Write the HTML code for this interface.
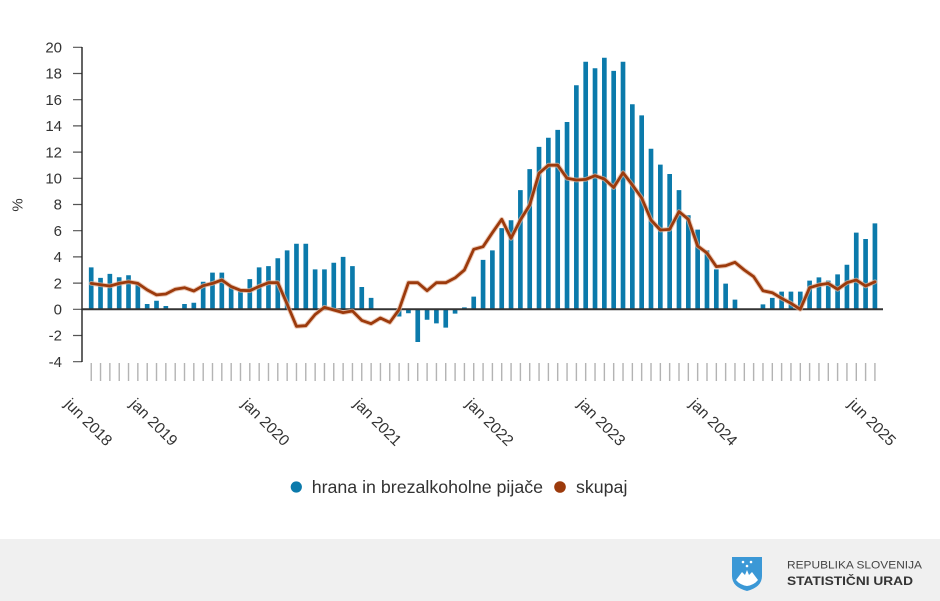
<!DOCTYPE html>
<html>
<head>
<meta charset="utf-8">
<style>
html,body{margin:0;padding:0;background:#fff;}
body{width:940px;height:601px;overflow:hidden;}
svg{display:block;}
text{font-family:"Liberation Sans",Arial,sans-serif;fill:#333;}
</style>
</head>
<body>
<svg width="940" height="601" viewBox="0 0 940 601" xmlns="http://www.w3.org/2000/svg">
<defs>
<pattern id="tk" patternUnits="userSpaceOnUse" x="86.535" y="363" width="9.33" height="18">
<rect x="4.05" y="0" width="1.25" height="18" fill="#aaa"/>
</pattern>
<polyline id="sk" fill="none" points="91.2,283.4 100.53,284.7 109.86,286.0 119.19,283.4 128.52,281.8 137.85,283.4 147.18,289.9 156.51,294.9 165.84,294.0 175.17,289.3 184.5,287.7 193.83,291.0 203.16,285.7 212.49,283.4 221.82,280.0 231.15,286.6 240.48,290.3 249.81,290.7 259.14,286.4 268.47,282.7 277.8,282.7 287.13,304.1 296.46,326.3 305.79,325.7 315.12,314.5 324.45,307.3 333.78,310.0 343.11,312.6 352.44,311.0 361.77,320.4 371.1,323.7 380.43,318.0 389.76,322.4 399.09,309.6 408.42,282.7 417.75,282.7 427.08,290.7 436.41,282.7 445.74,282.7 455.07,277.9 464.4,270.0 473.73,249.3 483.06,246.7 492.39,232.7 501.72,219.3 511.05,238.3 520.38,220.0 529.71,205.0 539.04,173.3 548.37,165.2 557.7,165.2 567.03,178.3 576.36,180.0 585.69,179.4 595.02,175.7 604.35,179.0 613.68,187.5 623.01,172.7 632.34,184.9 641.67,198.0 651.0,220.0 660.33,230.0 669.66,229.4 678.99,211.6 688.32,219.3 697.65,246.0 706.98,253.0 716.31,266.6 725.64,265.7 734.97,262.3 744.3,270.0 753.63,276.6 762.96,290.7 772.29,292.7 781.62,298.3 790.95,303.3 800.28,309.3 809.61,287.7 818.94,284.9 828.27,283.4 837.6,289.3 846.93,282.7 856.26,280.0 865.59,286.0 874.92,281.8"/>
</defs>
<rect x="0" y="0" width="940" height="601" fill="#fff"/>

<g font-size="15" text-anchor="end">
<text x="62" y="52.5">20</text>
<text x="62" y="78.7">18</text>
<text x="62" y="104.9">16</text>
<text x="62" y="131.1">14</text>
<text x="62" y="157.3">12</text>
<text x="62" y="183.5">10</text>
<text x="62" y="209.7">8</text>
<text x="62" y="235.9">6</text>
<text x="62" y="262.1">4</text>
<text x="62" y="288.3">2</text>
<text x="62" y="314.5">0</text>
<text x="62" y="340.7">-2</text>
<text x="62" y="366.9">-4</text>
</g>
<text x="0" y="0" font-size="15" text-anchor="middle" transform="translate(17,205) rotate(-90)" dy="0.35em">%</text>

<path stroke="#555" stroke-width="1.2" fill="none" d="M73 47.3H82M73 73.5H82M73 99.7H82M73 125.9H82M73 152.1H82M73 178.3H82M73 204.5H82M73 230.7H82M73 256.9H82M73 283.1H82M73 309.3H82M73 335.5H82M73 361.7H82"/>
<line x1="82" y1="47" x2="82" y2="362" stroke="#222" stroke-width="1.4"/>

<rect x="86" y="363" width="794" height="18" fill="url(#tk)"/>

<g transform="translate(91.2,309.3) scale(9.33,-13.1)">
<path fill="#0b7aab" d="M-0.25 0
v3.2h.5v-3.2m.5 0 v2.4h.5v-2.4m.5 0 v2.7h.5v-2.7m.5 0 v2.45h.5v-2.45m.5 0 v2.6h.5v-2.6m.5 0
v1.9h.5v-1.9m.5 0 v.4h.5v-.4m.5 0 v.65h.5v-.65m.5 0 v.25h.5v-.25m.5 0 m1 0
v.4h.5v-.4m.5 0 v.5h.5v-.5m.5 0 v2.1h.5v-2.1m.5 0 v2.8h.5v-2.8m.5 0 v2.8h.5v-2.8m.5 0
v1.7h.5v-1.7m.5 0 v1.45h.5v-1.45m.5 0 v2.3h.5v-2.3m.5 0 v3.2h.5v-3.2m.5 0 v3.3h.5v-3.3m.5 0
v3.9h.5v-3.9m.5 0 v4.5h.5v-4.5m.5 0 v5h.5v-5m.5 0 v5h.5v-5m.5 0 v3.05h.5v-3.05m.5 0
v3.05h.5v-3.05m.5 0 v3.55h.5v-3.55m.5 0 v4h.5v-4m.5 0 v3.3h.5v-3.3m.5 0 v1.7h.5v-1.7m.5 0
v.87h.5v-.87m.5 0 m2 0
v-.55h.5v.55m.5 0 v-.3h.5v.3m.5 0 v-2.5h.5v2.5m.5 0 v-.8h.5v.8m.5 0 v-1.07h.5v1.07m.5 0
v-1.4h.5v1.4m.5 0 v-.33h.5v.33m.5 0 v.15h.5v-.15m.5 0 v.97h.5v-.97m.5 0 v3.77h.5v-3.77m.5 0
v4.5h.5v-4.5m.5 0 v6.2h.5v-6.2m.5 0 v6.8h.5v-6.8m.5 0 v9.1h.5v-9.1m.5 0 v10.7h.5v-10.7m.5 0
v12.4h.5v-12.4m.5 0 v13.1h.5v-13.1m.5 0 v13.7h.5v-13.7m.5 0 v14.3h.5v-14.3m.5 0 v17.1h.5v-17.1m.5 0
v18.9h.5v-18.9m.5 0 v18.4h.5v-18.4m.5 0 v19.2h.5v-19.2m.5 0 v18.2h.5v-18.2m.5 0 v18.9h.5v-18.9m.5 0
v15.65h.5v-15.65m.5 0 v14.8h.5v-14.8m.5 0 v12.26h.5v-12.26m.5 0 v11.04h.5v-11.04m.5 0 v10.33h.5v-10.33m.5 0
v9.1h.5v-9.1m.5 0 v7.18h.5v-7.18m.5 0 v6.08h.5v-6.08m.5 0 v4.5h.5v-4.5m.5 0 v3.05h.5v-3.05m.5 0
v1.96h.5v-1.96m.5 0 v.74h.5v-.74m.5 0 m2 0
v.38h.5v-.38m.5 0 v.87h.5v-.87m.5 0 v1.35h.5v-1.35m.5 0 v1.35h.5v-1.35m.5 0 v1.35h.5v-1.35m.5 0
v2.19h.5v-2.19m.5 0 v2.44h.5v-2.44m.5 0 v2.19h.5v-2.19m.5 0 v2.67h.5v-2.67m.5 0 v3.4h.5v-3.4m.5 0
v5.85h.5v-5.85m.5 0 v5.37h.5v-5.37m.5 0 v6.56h.5v-6.56"/>
</g>

<line x1="82" y1="309.3" x2="883" y2="309.3" stroke="#333" stroke-width="2"/>

<use href="#sk" stroke="#e2b49a" stroke-opacity="0.7" stroke-width="4.8" stroke-linejoin="round" stroke-linecap="round"/>
<use href="#sk" stroke="#9c3a0c" stroke-width="2.8" stroke-linejoin="round" stroke-linecap="round"/>

<g font-size="15.5" text-anchor="middle">
<text transform="translate(88.7,422) rotate(45)" dy="0.35em">jun 2018</text>
<text transform="translate(154,422) rotate(45)" dy="0.35em">jan 2019</text>
<text transform="translate(266,422) rotate(45)" dy="0.35em">jan 2020</text>
<text transform="translate(378,422) rotate(45)" dy="0.35em">jan 2021</text>
<text transform="translate(490,422) rotate(45)" dy="0.35em">jan 2022</text>
<text transform="translate(601.9,422) rotate(45)" dy="0.35em">jan 2023</text>
<text transform="translate(713.8,422) rotate(45)" dy="0.35em">jan 2024</text>
<text transform="translate(872.4,422) rotate(45)" dy="0.35em">jun 2025</text>
</g>

<circle cx="296.3" cy="487" r="5.6" fill="#0b7aab"/>
<text x="311.7" y="493" font-size="17.8">hrana in brezalkoholne pijače</text>
<circle cx="560" cy="487" r="5.8" fill="#9c3a0c"/>
<text x="576" y="493" font-size="17.8">skupaj</text>

<rect x="0" y="539" width="940" height="62" fill="#f0f0f0"/>
<path d="M732 557 L762 557 L762 576 Q762 587 747 591 Q732 587 732 576 Z" fill="#3b98d6"/>
<path d="M736 580 L742 572 L745 575 L747 570 L749 575 L752 572 L758 580 Q754 585 747 586 Q740 585 736 580 Z" fill="#fff"/>
<circle cx="743" cy="562" r="1.3" fill="#fff"/>
<circle cx="751" cy="562" r="1.3" fill="#fff"/>
<circle cx="747" cy="566" r="1.3" fill="#fff"/>
<text x="787" y="568.3" font-size="11" textLength="135" lengthAdjust="spacingAndGlyphs" style="fill:#444">REPUBLIKA SLOVENIJA</text>
<text x="787" y="585" font-size="11.5" font-weight="bold" textLength="126" lengthAdjust="spacingAndGlyphs" style="fill:#333">STATISTIČNI URAD</text>
</svg>
</body>
</html>
